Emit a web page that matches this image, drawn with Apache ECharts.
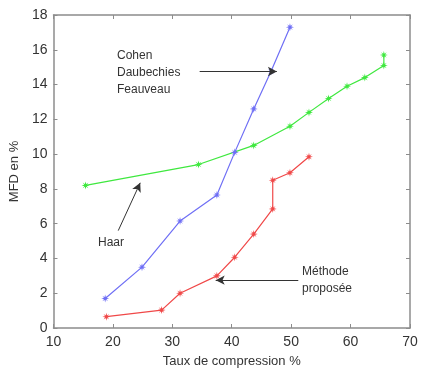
<!DOCTYPE html>
<html>
<head>
<meta charset="utf-8">
<script src="https://cdn.jsdelivr.net/npm/echarts@6/dist/echarts.min.js"></script>
<style>
  html, body { margin: 0; padding: 0; background: #fff; }
  #chart { width: 421px; height: 374px; }
</style>
</head>
<body>
<div id="chart"></div>
<script>
// x = taux de compression (%), y = MFD (%)
const haar = [
  [15.4, 8.2], [34.4, 9.4], [43.7, 10.5], [49.8, 11.6], [53.0, 12.4],
  [56.3, 13.2], [59.4, 13.9], [62.4, 14.4], [65.6, 15.1], [65.6, 15.7]
];
const cdf = [
  [18.7, 1.7], [24.9, 3.5], [31.3, 6.15], [37.5, 7.65], [40.5, 10.1],
  [43.7, 12.6], [46.6, 14.75], [49.8, 17.3]
];
const proposee = [
  [18.9, 0.65], [28.2, 1.03], [31.3, 2.0], [37.5, 3.0], [40.5, 4.07],
  [43.7, 5.4], [46.9, 6.85], [46.9, 8.5], [49.8, 8.93], [53.0, 9.85]
];
const xTicks = [10, 20, 30, 40, 50, 60, 70];
const yTicks = [0, 2, 4, 6, 8, 10, 12, 14, 16, 18];

const star = 'path://M5 0 L6 4 L10 5 L6 6 L5 10 L4 6 L0 5 L4 4 Z M1.5 1.5 L5.6 4.4 L8.5 8.5 L4.4 5.6 Z M8.5 1.5 L5.6 5.6 L1.5 8.5 L4.4 4.4 Z';
const font = 'Liberation Sans';
const axisColor = '#8c8c8c';

function arrow(from, to) {
  return [
    { coord: from, symbol: 'none' },
    { coord: to, symbol: 'arrow', symbolSize: [7, 9] }
  ];
}

const chart = echarts.init(document.getElementById('chart'), null, { renderer: 'canvas' });

const baseX = {
  type: 'value', min: 10, max: 70, interval: 10,
  axisLine: { show: true, onZero: false, lineStyle: { color: axisColor, width: 1.5 } },
  axisTick: { show: true, inside: true, length: 4, lineStyle: { color: axisColor } },
  splitLine: { show: false }
};
const baseY = {
  type: 'value', min: 0, max: 18, interval: 2,
  axisLine: { show: true, onZero: false, lineStyle: { color: axisColor, width: 1.5 } },
  axisTick: { show: true, inside: true, length: 4, lineStyle: { color: axisColor } },
  splitLine: { show: false }
};

chart.setOption({
  animation: false,
  grid: { left: 53, top: 15, right: 11, bottom: 46 },
  xAxis: [
    Object.assign({}, baseX, {
      position: 'bottom',
      name: 'Taux de compression %', nameLocation: 'middle', nameGap: 27,
      nameTextStyle: { fontFamily: font, fontSize: 13, color: '#333' },
      axisLabel: { fontFamily: font, fontSize: 14, color: '#333', margin: 7,
        formatter: v => xTicks.includes(v) ? String(v) : '' }
    }),
    Object.assign({}, baseX, { position: 'top', axisLabel: { show: false } })
  ],
  yAxis: [
    Object.assign({}, baseY, {
      position: 'left',
      name: 'MFD en %', nameLocation: 'middle', nameGap: 30,
      nameTextStyle: { fontFamily: font, fontSize: 13, color: '#333' },
      axisLabel: { fontFamily: font, fontSize: 14, color: '#333', margin: 6,
        formatter: v => yTicks.includes(v) ? String(v) : '' }
    }),
    Object.assign({}, baseY, { position: 'right', axisLabel: { show: false } })
  ],
  series: [
    {
      name: 'Haar', type: 'line', data: haar,
      color: '#3fe83f', lineStyle: { width: 1.2 },
      symbol: star, symbolSize: 8, itemStyle: { color: '#3fe83f' },
      markLine: {
        silent: true, label: { show: false },
        lineStyle: { color: '#333', width: 1, type: 'solid' },
        data: [arrow([20.9, 5.6], [24.6, 8.35])]
      }
    },
    {
      name: 'Cohen Daubechies Feauveau', type: 'line', data: cdf,
      color: '#6f6ff5', lineStyle: { width: 1.2 },
      symbol: star, symbolSize: 8, itemStyle: { color: '#6f6ff5' },
      markLine: {
        silent: true, label: { show: false },
        lineStyle: { color: '#333', width: 1, type: 'solid' },
        data: [arrow([34.6, 14.75], [47.6, 14.75])]
      }
    },
    {
      name: 'Méthode proposée', type: 'line', data: proposee,
      color: '#f04848', lineStyle: { width: 1.2 },
      symbol: star, symbolSize: 8, itemStyle: { color: '#f04848' },
      markLine: {
        silent: true, label: { show: false },
        lineStyle: { color: '#333', width: 1, type: 'solid' },
        data: [arrow([51.2, 2.75], [37.3, 2.75])]
      }
    }
  ],
  graphic: [
    { type: 'text', left: 117, top: 47,
      style: { text: 'Cohen\nDaubechies\nFeauveau', font: '12px "Liberation Sans"', fill: '#333', lineHeight: 17 } },
    { type: 'text', left: 98, top: 237,
      style: { text: 'Haar', font: '12px "Liberation Sans"', fill: '#333' } },
    { type: 'text', left: 302, top: 263,
      style: { text: 'Méthode\nproposée', font: '12px "Liberation Sans"', fill: '#333', lineHeight: 17 } }
  ]
});
</script>
</body>
</html>
